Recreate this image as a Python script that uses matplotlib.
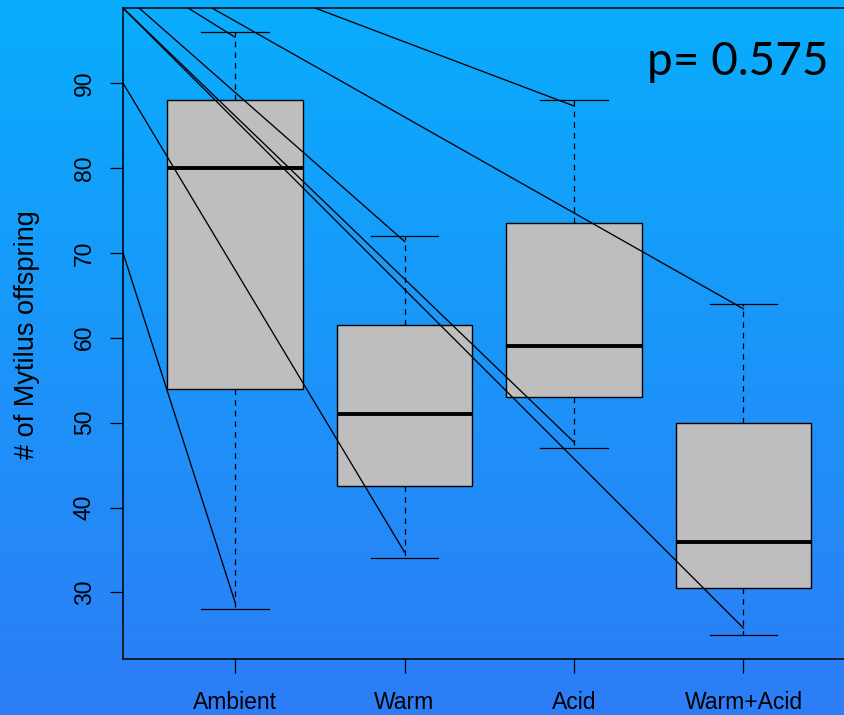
import matplotlib
matplotlib.use("Agg")
import matplotlib.pyplot as plt
import numpy as np
from matplotlib.colors import LinearSegmentedColormap

# box statistics
groups = ["Ambient", "Warm", "Acid", "Warm+Acid"]
whis_lo = [28, 34, 47, 25]
q1 = [54, 42.5, 53, 30.5]
med = [80, 51, 59, 36]
q3 = [88, 61.5, 73.5, 50]
whis_hi = [96, 72, 88, 64]

# stray connector lines (start -> end, data units)
seg_x0 = [0.339, 0.339, 0.434, 0.723, 0.864, 1.472, 0.339, 0.339]
seg_y0 = [98.84, 98.84, 98.84, 98.84, 98.84, 98.84, 90, 70]
seg_x1 = [3, 4, 2, 1, 4, 3, 2, 1]
seg_y1 = [47.7, 25.8, 71.35, 95.4, 63.4, 87.3, 34.75, 28.85]

yticks = [30, 40, 50, 60, 70, 80, 90]
p_text = "p= 0.575"

W, H = 844, 715
fig = plt.figure(figsize=(W / 100, H / 100), dpi=100)

# blue gradient background
bg = fig.add_axes([0, 0, 1, 1], zorder=-1)
cmap = LinearSegmentedColormap.from_list("bg", ["#09adfd", "#2d7df6"])
bg.imshow(np.linspace(0, 1, 256).reshape(-1, 1), aspect="auto", cmap=cmap,
          extent=[0, 1, 0, 1])
bg.axis("off")

ax = fig.add_axes([123 / W, 56 / H, 732.5 / W, 651 / H])
ax.set_facecolor("none")

stats = []
for i in range(len(groups)):
    stats.append({"whislo": whis_lo[i], "q1": q1[i], "med": med[i],
                  "q3": q3[i], "whishi": whis_hi[i], "label": groups[i]})

ax.bxp(stats, positions=range(1, len(groups) + 1), widths=0.8, capwidths=0.4,
       showfliers=False, patch_artist=True,
       boxprops=dict(facecolor="#bebebe", edgecolor="black", linewidth=1.0),
       medianprops=dict(color="black", linewidth=2.8, solid_capstyle="butt"),
       whiskerprops=dict(color="black", linewidth=0.9, linestyle=(0, (4.5, 4))),
       capprops=dict(color="black", linewidth=0.9))

for a, b, c, d in zip(seg_x0, seg_y0, seg_x1, seg_y1):
    ax.plot([a, c], [b, d], color="black", lw=0.95, zorder=5)

ax.set_xlim(0.339, 4.661)
ax.set_ylim(22.16, 98.84)

ax.set_yticks(yticks)
ax.set_yticklabels([str(v) for v in yticks], rotation=90, va="center",
                   fontsize=16.5, family="Liberation Sans")
ax.set_xticks(range(1, len(groups) + 1))
ax.set_xticklabels(groups, fontsize=16.5, family="Liberation Sans")
ax.tick_params(axis="y", length=9.5, width=0.9, pad=10)
ax.tick_params(axis="x", length=10, width=0.9, pad=13)

for s in ["left", "bottom", "top"]:
    ax.spines[s].set_linewidth(1.1)
ax.spines["right"].set_visible(False)

fig.text(27 / W, 1 - 335 / H, "# of Mytilus offspring", rotation=90,
         ha="center", va="center", fontsize=19.5, family="Liberation Sans")

fig.text(647 / W, 1 - 75 / H, p_text, ha="left", va="baseline",
         fontsize=33, family="Lato")

fig.savefig("out.png", dpi=100)
